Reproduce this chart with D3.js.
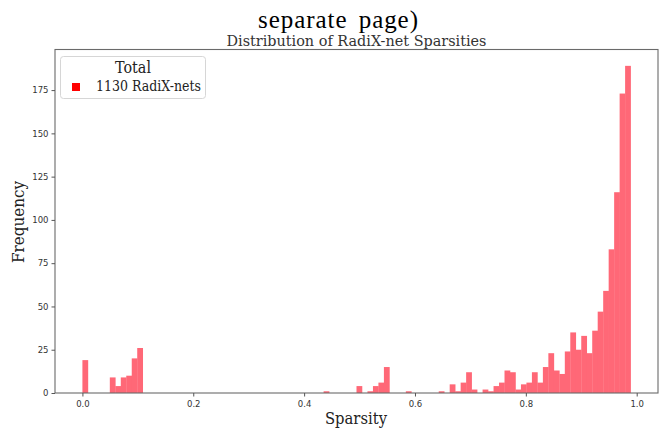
<!DOCTYPE html>
<html><head><meta charset="utf-8">
<script src="https://cdn.jsdelivr.net/npm/d3@7"></script>
<style>body{margin:0;background:#fff}svg{display:block}</style>
</head><body>
<svg id="c" width="662" height="428"></svg>
<script>
// Histogram of 1130 sparsity values, 100 equal bins between min and max
const binCounts = [
  19, 0, 0, 0, 0, 9, 4, 9, 10, 20,
  26, 0, 0, 0, 0, 0, 0, 0, 0, 0,
  0, 0, 0, 0, 0, 0, 0, 0, 0, 0,
  0, 0, 0, 0, 0, 0, 0, 0, 0, 0,
  0, 0, 0, 0, 1, 0, 0, 0, 0, 0,
  4, 0, 1, 4, 6, 15, 0, 0, 0, 1,
  0, 0, 0, 0, 0, 1, 0, 5, 1, 6,
  12, 2, 0, 2, 1, 4, 6, 13, 12, 2,
  5, 6, 12, 6, 15, 23, 13, 11, 24, 35,
  25, 33, 23, 36, 47, 59, 83, 116, 173, 189
];
const sparsityMin = 0.0;
const sparsityMax = 0.989;
const xTicks = [0.0, 0.2, 0.4, 0.6, 0.8, 1.0];
const yTicks = [0, 25, 50, 75, 100, 125, 150, 175];
const pageText = "separate page)";
const chartTitle = "Distribution of RadiX-net Sparsities";
const xLabel = "Sparsity";
const yLabel = "Frequency";
const legendTitle = "Total";
const legendLabel = "1130 RadiX-nets";

const svg = d3.select("#c");
const mLeft = 55, mRight = 658, mTop = 49.5, mBottom = 393;
const span = sparsityMax - sparsityMin;
const x = d3.scaleLinear()
  .domain([sparsityMin - 0.05 * span, sparsityMax + 0.05 * span])
  .range([mLeft, mRight]);
const yMax = d3.max(binCounts) * 1.05;
const y = d3.scaleLinear().domain([0, yMax]).range([mBottom, mTop]);

const nb = binCounts.length;
const bins = binCounts.map((c, i) => ({
  x0: sparsityMin + span * i / nb,
  x1: sparsityMin + span * (i + 1) / nb,
  count: c
}));

// bars
svg.append("g").selectAll("rect").data(bins.filter(d => d.count > 0)).join("rect")
  .attr("x", d => x(d.x0))
  .attr("width", d => x(d.x1) - x(d.x0) + 0.3)
  .attr("y", d => y(d.count))
  .attr("height", d => y(0) - y(d.count))
  .attr("fill", "#ff6877");

// frame
svg.append("rect").attr("x", mLeft).attr("y", mTop)
  .attr("width", mRight - mLeft).attr("height", mBottom - mTop)
  .attr("fill", "none").attr("stroke", "#6a6a6a").attr("stroke-width", 1.1);

// axes
const xAxis = svg.append("g").attr("transform", `translate(0,${mBottom})`)
  .call(d3.axisBottom(x).tickValues(xTicks).tickFormat(d3.format(".1f")).tickSize(3.5).tickPadding(4));
const yAxis = svg.append("g").attr("transform", `translate(${mLeft},0)`)
  .call(d3.axisLeft(y).tickValues(yTicks).tickFormat(d3.format("d")).tickSize(3.5).tickPadding(3));
[xAxis, yAxis].forEach(g => {
  g.select(".domain").remove();
  g.selectAll("line").attr("stroke", "#555");
  g.selectAll("text").attr("fill", "#333").style("font-family", "DejaVu Sans").style("font-size", "8.5px");
});

// top page text
svg.append("text").attr("x", 338).attr("y", 28).attr("text-anchor", "middle")
  .attr("textLength", 160).attr("lengthAdjust", "spacing")
  .style("font-family", "'Liberation Serif', 'Times New Roman', serif").style("font-size", "25px")
  .style("word-spacing", "4px").attr("fill", "#000")
  .text(pageText);

// chart title
svg.append("text").attr("x", 356.5).attr("y", 46).attr("text-anchor", "middle")
  .attr("textLength", 260).attr("lengthAdjust", "spacingAndGlyphs")
  .style("font-family", "'DejaVu Serif', serif").style("font-size", "15px").attr("fill", "#333")
  .text(chartTitle);

// axis labels
svg.append("text").attr("x", 356).attr("y", 424).attr("text-anchor", "middle")
  .attr("textLength", 62).attr("lengthAdjust", "spacingAndGlyphs")
  .style("font-family", "'DejaVu Serif', serif").style("font-size", "16px").attr("fill", "#222")
  .text(xLabel);
svg.append("text").attr("transform", "translate(24,222) rotate(-90)").attr("text-anchor", "middle")
  .attr("textLength", 82).attr("lengthAdjust", "spacingAndGlyphs")
  .style("font-family", "'DejaVu Serif', serif").style("font-size", "16px").attr("fill", "#222")
  .text(yLabel);

// legend
const lg = svg.append("g");
lg.append("rect").attr("x", 60.5).attr("y", 56.5).attr("width", 145).attr("height", 42).attr("rx", 3)
  .attr("fill", "#fff").attr("fill-opacity", 0.85).attr("stroke", "#d6d6d6");
lg.append("text").attr("x", 133).attr("y", 73).attr("text-anchor", "middle")
  .attr("textLength", 36).attr("lengthAdjust", "spacingAndGlyphs")
  .style("font-family", "'DejaVu Serif', serif").style("font-size", "16px").attr("fill", "#222")
  .text(legendTitle);
lg.append("rect").attr("x", 72).attr("y", 83).attr("width", 8).attr("height", 8).attr("fill", "#ff0000");
lg.append("text").attr("x", 96).attr("y", 91).attr("text-anchor", "start")
  .attr("textLength", 105).attr("lengthAdjust", "spacingAndGlyphs")
  .style("font-family", "'DejaVu Serif', serif").style("font-size", "14px").attr("fill", "#222")
  .text(legendLabel);
</script>
</body></html>
